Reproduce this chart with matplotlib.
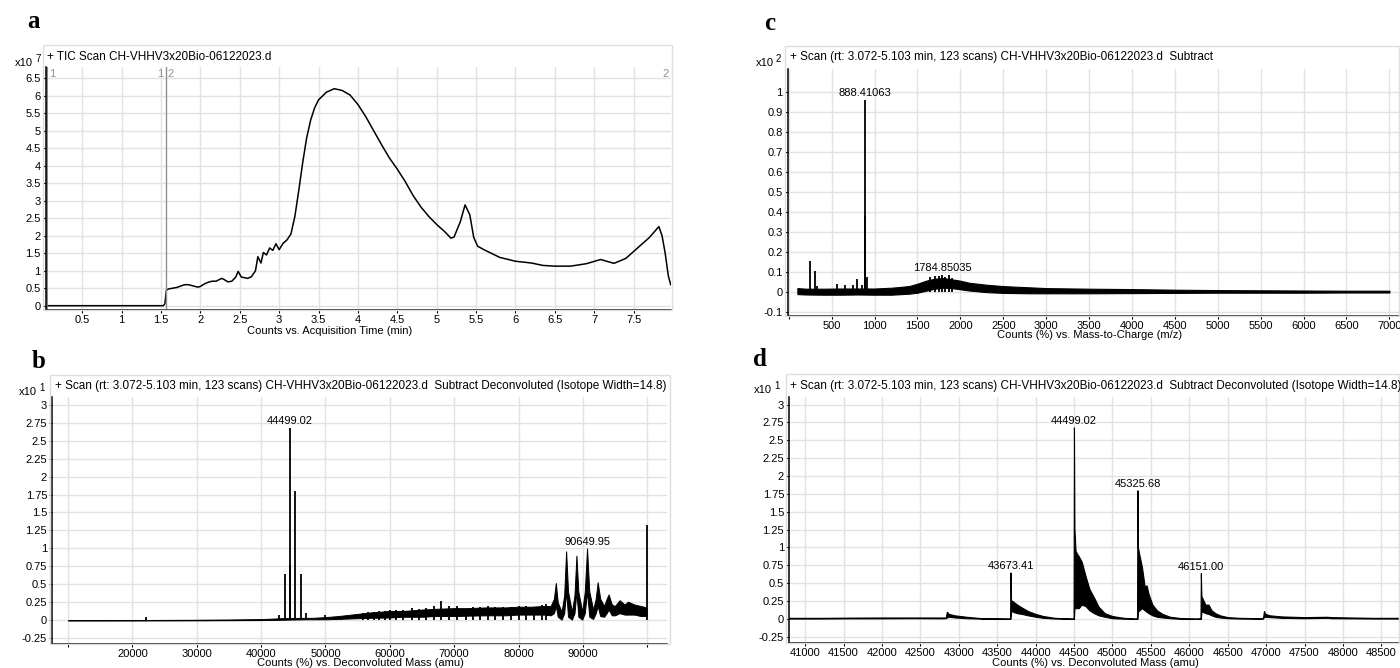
import matplotlib.pyplot as plt
from matplotlib.patches import Rectangle

W, H = 1400, 668

# ---- panel a: TIC, x10^7 counts vs acquisition time (min)
tic_time = [0.05, 1.53, 1.55, 1.57, 1.6, 1.7, 1.75, 1.8, 1.85, 1.9,
            1.97, 2.0, 2.05, 2.1, 2.15, 2.2, 2.27, 2.3, 2.35, 2.4,
            2.45, 2.48, 2.52, 2.6, 2.65, 2.7, 2.73, 2.77, 2.8, 2.84,
            2.88, 2.92, 2.96, 3.0, 3.05, 3.1, 3.15, 3.2, 3.25, 3.3,
            3.35, 3.4, 3.45, 3.5, 3.6, 3.7, 3.8, 3.9, 4.0, 4.1,
            4.2, 4.3, 4.4, 4.5, 4.6, 4.7, 4.8, 4.9, 5.0, 5.1,
            5.18, 5.22, 5.3, 5.36, 5.42, 5.47, 5.52, 5.6, 5.8, 6.0,
            6.2, 6.35, 6.5, 6.7, 6.9, 7.08, 7.25, 7.4, 7.5, 7.7,
            7.82, 7.86, 7.9, 7.94, 7.97]
tic_counts = [0.0, 0.0, 0.05, 0.45, 0.48, 0.52, 0.56, 0.6, 0.6, 0.57,
              0.53, 0.55, 0.62, 0.67, 0.7, 0.7, 0.78, 0.75, 0.68, 0.7,
              0.82, 0.98, 0.82, 0.78, 0.83, 1.0, 1.4, 1.22, 1.52, 1.45,
              1.65, 1.58, 1.77, 1.6, 1.78, 1.88, 2.05, 2.55, 3.3, 4.1,
              4.8, 5.3, 5.65, 5.88, 6.1, 6.2, 6.15, 6.02, 5.75, 5.4,
              5.0, 4.6, 4.22, 3.9, 3.55, 3.15, 2.82, 2.55, 2.32, 2.12,
              1.93, 1.96, 2.4, 2.88, 2.6, 1.95, 1.7, 1.6, 1.38, 1.27,
              1.22, 1.15, 1.13, 1.13, 1.2, 1.32, 1.21, 1.35, 1.55, 1.95,
              2.26, 2.0, 1.5, 0.85, 0.6]

# ---- panel b: deconvoluted, full range (x10^1 %)
b_env_mass = [10000, 20000, 30000, 35000, 40000, 42000, 43000, 47000, 48000, 50000,
              52000, 55000, 57000, 60000, 62000, 65000, 67000, 70000, 72000, 75000,
              78000, 80000, 82000, 84000, 85000, 85500, 85800, 86100, 86700, 87100,
              87400, 87700, 88300, 88700, 89000, 89300, 89900, 90300, 90650, 91000,
              91600, 92000, 92300, 92700, 93300, 93700, 94000, 94500, 95000, 95700,
              96500, 97000, 98000, 99000, 99900]
b_env_hi = [0.003, 0.004, 0.008, 0.012, 0.018, 0.025, 0.03, 0.035, 0.035, 0.045,
            0.06, 0.09, 0.11, 0.13, 0.13, 0.15, 0.16, 0.17, 0.17, 0.18,
            0.18, 0.19, 0.19, 0.2, 0.2, 0.3, 0.52, 0.25, 0.12, 0.35,
            0.96, 0.4, 0.12, 0.35, 0.9, 0.4, 0.12, 0.4, 1.0, 0.4,
            0.15, 0.3, 0.53, 0.3, 0.2, 0.3, 0.36, 0.22, 0.2, 0.28,
            0.22, 0.26, 0.22, 0.2, 0.18]
b_env_lo = [-0.002, -0.002, 0.0, 0.002, 0.004, 0.006, 0.008, 0.015, 0.015, 0.015,
            0.02, 0.03, 0.035, 0.04, 0.05, 0.05, 0.06, 0.06, 0.065, 0.07,
            0.07, 0.08, 0.08, 0.08, 0.07, 0.1, 0.2, 0.05, 0.01, 0.1,
            0.4, 0.05, 0.01, 0.1, 0.4, 0.05, 0.01, 0.1, 0.4, 0.05,
            0.02, 0.1, 0.2, 0.06, 0.05, 0.1, 0.15, 0.07, 0.07, 0.1,
            0.08, 0.08, 0.08, 0.06, 0.06]
b_stick_mass = [22100, 42850, 43673, 44499, 44560, 45326, 46151, 46970, 50000, 55800,
                56600, 57500, 58300, 59200, 60000, 61000, 62000, 63500, 64500, 65700,
                66900, 68000, 69200, 70500, 71800, 73000, 74000, 75200, 76400, 77600,
                78800, 80000, 81200, 82400, 83600, 84200, 100000]
b_stick_h = [0.04, 0.08, 0.65, 2.68, 0.77, 1.8, 0.64, 0.1, 0.07, 0.1,
             0.11, 0.12, 0.13, 0.13, 0.15, 0.14, 0.15, 0.17, 0.16, 0.17,
             0.2, 0.27, 0.2, 0.2, 0.16, 0.18, 0.19, 0.2, 0.19, 0.18,
             0.19, 0.2, 0.2, 0.19, 0.21, 0.23, 1.33]
b_labels = [(44499.02, 2.68, "44499.02"), (90649.95, 1.0, "90649.95")]

# ---- panel c: m/z spectrum (x10^2 %)
c_env_mz = [100, 200, 400, 600, 800, 1000, 1200, 1400, 1500, 1600,
            1700, 1800, 1900, 2000, 2100, 2300, 2500, 2800, 3000, 3500,
            4000, 4500, 5000, 5500, 6000, 6500, 7000]
c_env_hi = [0.018, 0.015, 0.015, 0.016, 0.016, 0.016, 0.02, 0.028, 0.04, 0.055,
            0.065, 0.068, 0.062, 0.055, 0.045, 0.035, 0.028, 0.022, 0.018, 0.015,
            0.013, 0.01, 0.008, 0.007, 0.006, 0.005, 0.005]
c_env_lo = [-0.012, -0.014, -0.015, -0.015, -0.014, -0.015, -0.015, -0.01, -0.005, 0.005,
            0.015, 0.02, 0.018, 0.012, 0.006, -0.002, -0.006, -0.008, -0.008, -0.008,
            -0.007, -0.006, -0.005, -0.005, -0.005, -0.004, -0.004]
c_stick_mz = [250, 300, 330, 560, 650, 750, 800, 850, 888.41, 889.4,
              910, 1650, 1700, 1750, 1784.85, 1820, 1870, 1900]
c_stick_h = [0.152, 0.105, 0.03, 0.04, 0.035, 0.035, 0.065, 0.035, 0.96, 0.38,
             0.075, 0.075, 0.08, 0.08, 0.085, 0.075, 0.082, 0.07]
c_labels = [(888.41063, 0.96, "888.41063"), (1784.85035, 0.085, "1784.85035")]

# ---- panel d: deconvoluted, zoom (x10^1 %)
d_mass = [40790, 41200, 41600, 42000, 42400, 42800, 42830, 42845, 42870, 42950,
          43100, 43300, 43650, 43668, 43673, 43680, 43700, 43760, 43820, 43900,
          44000, 44100, 44250, 44480, 44494, 44499, 44505, 44520, 44560, 44600,
          44650, 44700, 44760, 44820, 44900, 45000, 45150, 45300, 45320, 45326,
          45332, 45350, 45385, 45420, 45445, 45470, 45520, 45580, 45650, 45750,
          45900, 46100, 46146, 46151, 46158, 46175, 46210, 46250, 46290, 46340,
          46400, 46500, 46650, 46900, 46960, 46972, 46990, 47050, 47200, 47500,
          47800, 47850, 48100, 48400, 48730]
d_hi = [0.015, 0.015, 0.018, 0.02, 0.02, 0.02, 0.02, 0.1, 0.07, 0.05,
        0.03, 0.01, 0.006, 0.01, 0.65, 0.26, 0.25, 0.2, 0.16, 0.11,
        0.07, 0.04, 0.015, 0.005, 0.01, 2.68, 1.27, 0.95, 0.88, 0.8,
        0.6, 0.42, 0.3, 0.17, 0.08, 0.04, 0.015, 0.005, 0.01, 1.8,
        1.0, 0.9, 0.72, 0.45, 0.47, 0.35, 0.2, 0.12, 0.07, 0.03,
        0.01, 0.005, 0.01, 0.64, 0.32, 0.28, 0.2, 0.2, 0.12, 0.08,
        0.05, 0.025, 0.015, 0.01, 0.012, 0.11, 0.07, 0.05, 0.035, 0.025,
        0.03, 0.025, 0.02, 0.015, 0.015]
d_lo = [0.005, 0.005, 0.008, 0.008, 0.01, 0.008, 0.01, 0.02, 0.03, 0.02,
        0.01, 0.003, 0.0, 0.0, 0.0, 0.12, 0.1, 0.08, 0.07, 0.05,
        0.03, 0.015, 0.005, 0.0, 0.0, 0.0, 0.15, 0.15, 0.15, 0.2,
        0.18, 0.12, 0.08, 0.05, 0.03, 0.01, 0.003, 0.0, 0.0, 0.0,
        0.1, 0.12, 0.15, 0.12, 0.1, 0.08, 0.05, 0.03, 0.02, 0.01,
        0.0, 0.0, 0.0, 0.0, 0.1, 0.1, 0.08, 0.07, 0.05, 0.03,
        0.02, 0.01, 0.005, 0.003, 0.004, 0.03, 0.03, 0.025, 0.015, 0.01,
        0.015, 0.01, 0.008, 0.005, 0.005]
d_labels = [(43673.41, 0.65, "43673.41"), (44499.02, 2.68, "44499.02"),
            (45325.68, 1.8, "45325.68"), (46151.00, 0.64, "46151.00")]

plt.rcParams['font.family'] = ['Liberation Sans', 'DejaVu Sans']

fig = plt.figure(figsize=(14, 6.68), dpi=100)


def ftxt(x, y, s, **kw):
    fig.text(x / W, 1 - y / H, s, **kw)


def make_axes(l, t, r, b, frame, header, hx, hy, mult, mx, my, letter, lx, ly,
              xlabel, xlx, xly):
    ax = fig.add_axes([l / W, 1 - b / H, (r - l) / W, (b - t) / H])
    fl, ft, fr, fb = frame
    fig.patches.append(Rectangle((fl / W, 1 - fb / H), (fr - fl) / W, (fb - ft) / H,
                                 transform=fig.transFigure, fill=False,
                                 edgecolor='#dedede', lw=1.0, zorder=0))
    for s in ['top', 'right']:
        ax.spines[s].set_visible(False)
    for s in ['left', 'bottom']:
        ax.spines[s].set_linewidth(1.1)
    ax.grid(True, color='#e2e2e2', lw=1.0)
    ax.set_axisbelow(True)
    ax.tick_params(direction='out', length=2.5, width=0.8, labelsize=8, pad=1)
    ftxt(hx, hy, header, fontsize=8.5, va='center', ha='left')
    ftxt(mx, my, 'x10', fontsize=8, va='center', ha='right')
    ftxt(mx + 2, my - 4, mult, fontsize=7, va='center', ha='left')
    ftxt(lx, ly, letter, fontsize=18, fontweight='bold', family='Liberation Serif',
         va='center', ha='center')
    ftxt(xlx, xly, xlabel, fontsize=8, va='center', ha='center')
    return ax


def fmt(v):
    return f"{v:g}"


hdr_scan = "+ Scan (rt: 3.072-5.103 min, 123 scans) CH-VHHV3x20Bio-06122023.d  Subtract"

# ---------- a
ax = make_axes(45.5, 67, 670.7, 310, (43, 45, 672, 310),
               "+ TIC Scan CH-VHHV3x20Bio-06122023.d", 47, 57,
               '7', 33, 63, 'a', 33, 22,
               'Counts vs. Acquisition Time (min)', 330, 331)
ax.plot(tic_time, tic_counts, color='black', lw=1.1)
ax.set_xlim(0.035, 7.97)
ax.set_ylim(-0.123, 6.82)
xt = [0.5 * i for i in range(1, 16)]
ax.set_xticks(xt)
ax.set_xticklabels([fmt(v) for v in xt])
yt = [0.5 * i for i in range(0, 14)]
ax.set_yticks(yt)
ax.set_yticklabels([fmt(v) for v in yt])
ax.axvline(0.055, color='#707070', lw=1.2)
ax.axvline(1.559, color='#909090', lw=1.0)
for x, s, ha in [(0.08, '1', 'left'), (1.535, '1', 'right'), (1.585, '2', 'left'),
                 (7.94, '2', 'right')]:
    ax.text(x, 6.63, s, color='#909090', fontsize=8, ha=ha, va='center')

# ---------- b
ax = make_axes(52, 397, 666.5, 644.3, (50, 375, 670, 644.3),
               hdr_scan + " Deconvoluted (Isotope Width=14.8)", 55, 386,
               '1', 37, 392, 'b', 39, 361,
               'Counts (%) vs. Deconvoluted Mass (amu)', 360, 663)
ax.fill_between(b_env_mass, b_env_lo, b_env_hi, color='black', lw=0.7)
ax.vlines(b_stick_mass, 0, b_stick_h, color='black', lw=1.3)
for x, y, s in b_labels:
    ax.annotate(s, (x, y), xytext=(0, 1), textcoords='offset points',
                ha='center', va='bottom', fontsize=8)
ax.set_xlim(7500, 103000)
ax.set_ylim(-0.333, 3.106)
xt = [10000 * i for i in range(1, 11)]
ax.set_xticks(xt)
ax.set_xticklabels(['' if v in (10000, 100000) else str(v) for v in xt])
yt = [0.25 * i for i in range(-1, 13)]
ax.set_yticks(yt)
ax.set_yticklabels([fmt(v) for v in yt])

# ---------- c
ax = make_axes(787.5, 69, 1399, 315.7, (785, 46, 1399, 315.7),
               hdr_scan, 790, 57,
               '2', 774, 63, 'c', 770, 23,
               'Counts (%) vs. Mass-to-Charge (m/z)', 1090, 335)
ax.fill_between(c_env_mz, c_env_lo, c_env_hi, color='black', lw=0.8)
ax.vlines(c_stick_mz, 0, c_stick_h, color='black', lw=1.3)
for x, y, s in c_labels:
    ax.annotate(s, (x, y), xytext=(0, 1), textcoords='offset points',
                ha='center', va='bottom', fontsize=8)
ax.set_xlim(-15, 7112)
ax.set_ylim(-0.12, 1.1135)
xt = [500 * i for i in range(0, 15)]
ax.set_xticks(xt)
ax.set_xticklabels(['' if v == 0 else str(v) for v in xt])
yt = [round(0.1 * i, 1) for i in range(-1, 11)]
ax.set_yticks(yt)
ax.set_yticklabels([fmt(v) for v in yt])

# ---------- d
ax = make_axes(789, 397, 1399, 642.7, (786, 374, 1399, 642.7),
               hdr_scan + " Deconvoluted (Isotope Width=14.8)", 790, 386,
               '1', 772, 390, 'd', 760, 360,
               'Counts (%) vs. Deconvoluted Mass (amu)', 1095, 663)
ax.fill_between(d_mass, d_lo, d_hi, color='black', lw=0.8)
for x, y, s in d_labels:
    ax.annotate(s, (x, y), xytext=(0, 1), textcoords='offset points',
                ha='center', va='bottom', fontsize=8)
ax.set_xlim(40790, 48730)
ax.set_ylim(-0.333, 3.106)
xt = [41000 + 500 * i for i in range(0, 16)]
ax.set_xticks(xt)
ax.set_xticklabels([str(v) for v in xt])
yt = [0.25 * i for i in range(-1, 13)]
ax.set_yticks(yt)
ax.set_yticklabels([fmt(v) for v in yt])

fig.savefig('out.png', dpi=100)
